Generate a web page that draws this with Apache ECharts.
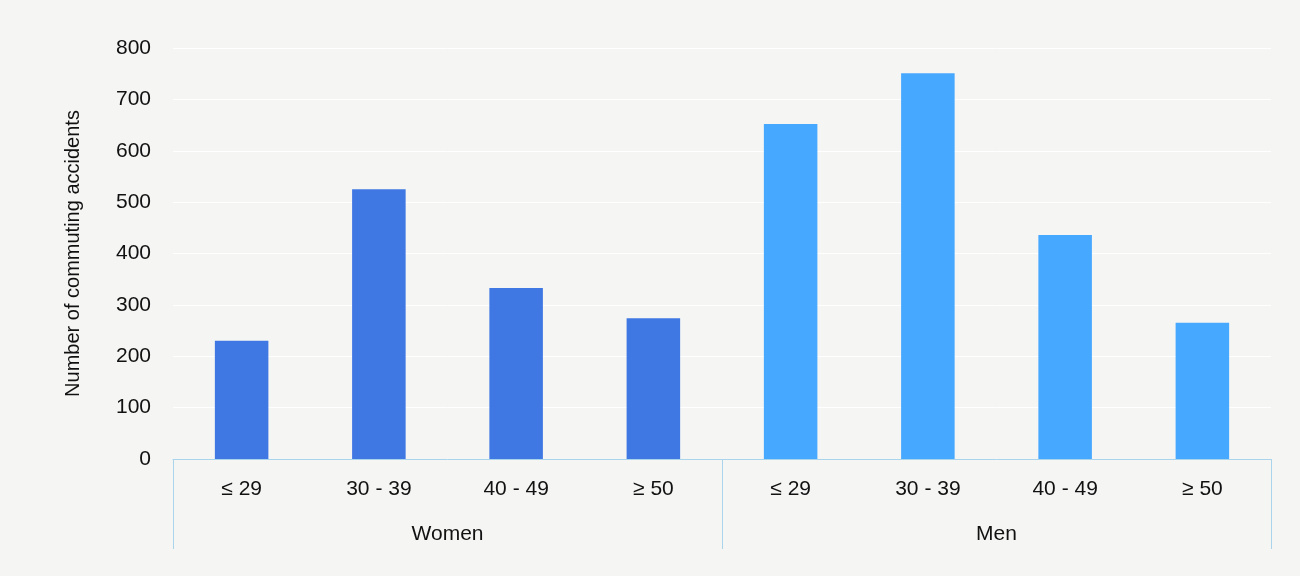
<!DOCTYPE html>
<html>
<head>
<meta charset="utf-8">
<script src="https://cdn.jsdelivr.net/npm/echarts@6/dist/echarts.min.js"></script>
<style>
  html, body { margin: 0; background: #f5f6f4; }
  #chart { width: 1300px; height: 576px; }
</style>
</head>
<body>
<div id="chart"></div>
<script>
const ageGroups = ['≤ 29', '30 - 39', '40 - 49', '≥ 50', '≤ 29', '30 - 39', '40 - 49', '≥ 50'];
const genders = ['Women', 'Men'];
const women = [230, 525, 333, 274];
const men = [652, 751, 436, 265];
const yTicks = { min: 0, max: 800, interval: 100 };

const womenColor = '#3f77e3';
const menColor = '#47a8ff';
const axisColor = '#a9d4ec';

const chart = echarts.init(document.getElementById('chart'));

const values = women.map(v => ({ value: v, itemStyle: { color: womenColor } }))
  .concat(men.map(v => ({ value: v, itemStyle: { color: menColor } })));

chart.setOption({
  backgroundColor: '#f5f6f4',
  textStyle: { fontFamily: 'Liberation Sans, Arial, sans-serif' },
  grid: { left: 173, right: 29, top: 48, bottom: 117 },
  xAxis: [
    {
      type: 'category',
      data: ageGroups,
      axisLine: { lineStyle: { color: axisColor } },
      axisTick: { show: false },
      axisLabel: { color: '#111', fontSize: 21, margin: 20 }
    },
    {
      type: 'category',
      data: genders,
      position: 'bottom',
      axisLine: { show: false },
      axisTick: { show: true, length: 90, lineStyle: { color: axisColor } },
      axisLabel: { color: '#111', fontSize: 21, margin: 65 }
    }
  ],
  yAxis: {
    type: 'value',
    min: yTicks.min,
    max: yTicks.max,
    interval: yTicks.interval,
    name: 'Number of commuting accidents',
    nameLocation: 'middle',
    nameGap: 90,
    nameTextStyle: { color: '#111', fontSize: 20 },
    axisLabel: { color: '#111', fontSize: 21, margin: 22 },
    splitLine: { lineStyle: { color: '#ffffff', width: 1 } }
  },
  series: [{
    type: 'bar',
    data: values,
    barWidth: '39%'
  }]
});
</script>
</body>
</html>
